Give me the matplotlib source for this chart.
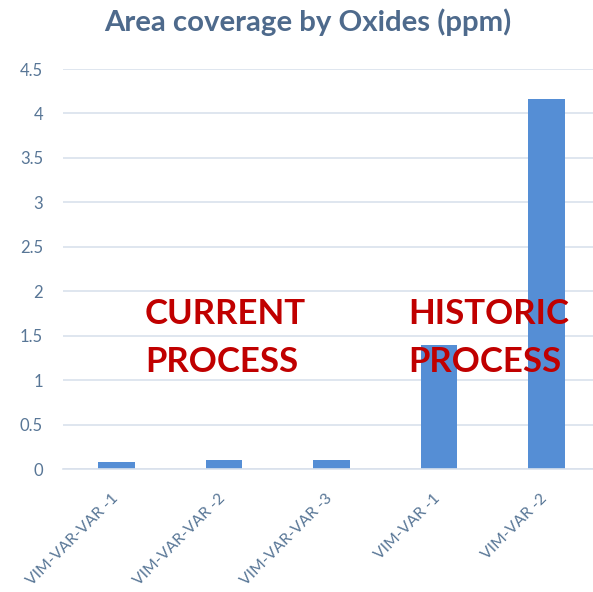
import matplotlib
matplotlib.use("Agg")
import matplotlib.pyplot as plt
from matplotlib.transforms import ScaledTranslation

categories = ["VIM-VAR-VAR -1", "VIM-VAR-VAR -2", "VIM-VAR-VAR -3", "VIM-VAR -1", "VIM-VAR -2"]
values = [0.08, 0.10, 0.10, 1.40, 4.16]
yticks = [0, 0.5, 1, 1.5, 2, 2.5, 3, 3.5, 4, 4.5]
ytick_labels = ["0", "0.5", "1", "1.5", "2", "2.5", "3", "3.5", "4", "4.5"]
title = "Area coverage by Oxides (ppm)"

W, H = 593, 592
fig = plt.figure(figsize=(W/100, H/100), dpi=100)
ax = fig.add_axes([63/W, 1-469/H, 537/W, 400/H])

x = list(range(len(categories)))
ax.bar(x, values, width=0.34, color="#558ED5", zorder=2)
ax.set_xlim(-0.5, len(categories)-0.5)
ax.set_ylim(0, 4.5)
ax.set_yticks(yticks)
ax.set_yticklabels(ytick_labels)
ax.grid(axis="y", color="#D9E1EC", linewidth=1.2, zorder=0)
for s in ["top", "right", "left"]:
    ax.spines[s].set_visible(False)
ax.spines["bottom"].set_color("#D9E1EC")
ax.spines["bottom"].set_linewidth(1.2)
ax.tick_params(axis="both", length=0, colors="#587696")
ax.tick_params(axis="y", pad=14.4, labelsize=12)
ax.tick_params(axis="x", pad=20, labelsize=11.3)
ax.set_xticks(x)
ax.set_xticklabels(categories, rotation=45, ha="right", va="center", rotation_mode="anchor")
off = ScaledTranslation(-1/100, 0, fig.dpi_scale_trans)
for lab in ax.get_xticklabels():
    lab.set_transform(lab.get_transform() + off)
for lab in ax.get_xticklabels() + ax.get_yticklabels():
    lab.set_fontfamily("Lato")

fig.text(308/W, 1-22.5/H, title, ha="center", va="center", fontsize=21.2, fontweight="bold",
         color="#4E6A8C", family="Lato")

ax.text(0.263, 1.47, "CURRENT\nPROCESS", ha="left", va="center", fontsize=25, fontweight="bold",
        color="#C00000", family="Lato", linespacing=1.62, zorder=3)
ax.text(2.71, 1.47, "HISTORIC\nPROCESS", ha="left", va="center", fontsize=25, fontweight="bold",
        color="#C00000", family="Lato", linespacing=1.62, zorder=3)

fig.savefig("out.png", dpi=100)
